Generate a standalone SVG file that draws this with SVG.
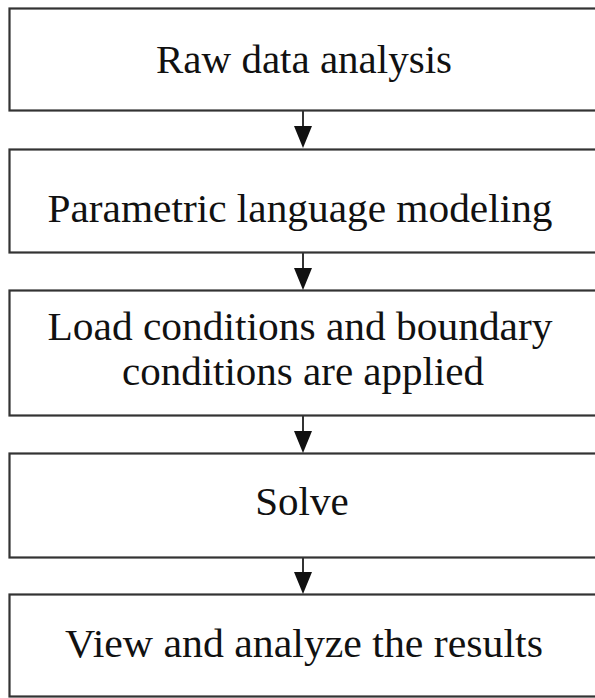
<svg xmlns="http://www.w3.org/2000/svg" width="595" height="698" viewBox="0 0 595 698">
<defs>
<style>
.box{fill:#fff;stroke:#333;stroke-width:2.2}
.t{font-family:"Liberation Serif","Times New Roman",serif;font-size:41px;fill:#111;text-anchor:middle}
.c{stroke:#333;stroke-width:2}
.h{fill:#111}
</style>
</defs>
<rect width="595" height="698" fill="#fff"/>
<g id="n1"><rect class="box" x="9.5" y="8.5" width="600" height="102"/><text class="t" x="304" y="73">Raw data analysis</text></g>
<g id="n2"><rect class="box" x="9.5" y="149.5" width="600" height="103"/><text class="t" x="300" y="222" textLength="505" lengthAdjust="spacingAndGlyphs">Parametric language modeling</text></g>
<g id="n3"><rect class="box" x="9.5" y="290.5" width="600" height="125"/><text class="t" x="300" y="340" textLength="505" lengthAdjust="spacingAndGlyphs">Load conditions and boundary</text><text class="t" x="303" y="385">conditions are applied</text></g>
<g id="n4"><rect class="box" x="9.5" y="453.5" width="600" height="104"/><text class="t" x="302" y="515">Solve</text></g>
<g id="n5"><rect class="box" x="9.5" y="594.5" width="600" height="102"/><text class="t" x="304" y="657" textLength="478" lengthAdjust="spacingAndGlyphs">View and analyze the results</text></g>
<g id="connectors">
<line class="c" x1="303" y1="111" x2="303" y2="130"/><polygon class="h" points="294,126 312,126 303,148"/>
<line class="c" x1="303" y1="253" x2="303" y2="272"/><polygon class="h" points="294,268 312,268 303,290"/>
<line class="c" x1="303" y1="416" x2="303" y2="435"/><polygon class="h" points="294,431 312,431 303,453"/>
<line class="c" x1="303" y1="558" x2="303" y2="576"/><polygon class="h" points="294,572 312,572 303,594"/>
</g>
</svg>
